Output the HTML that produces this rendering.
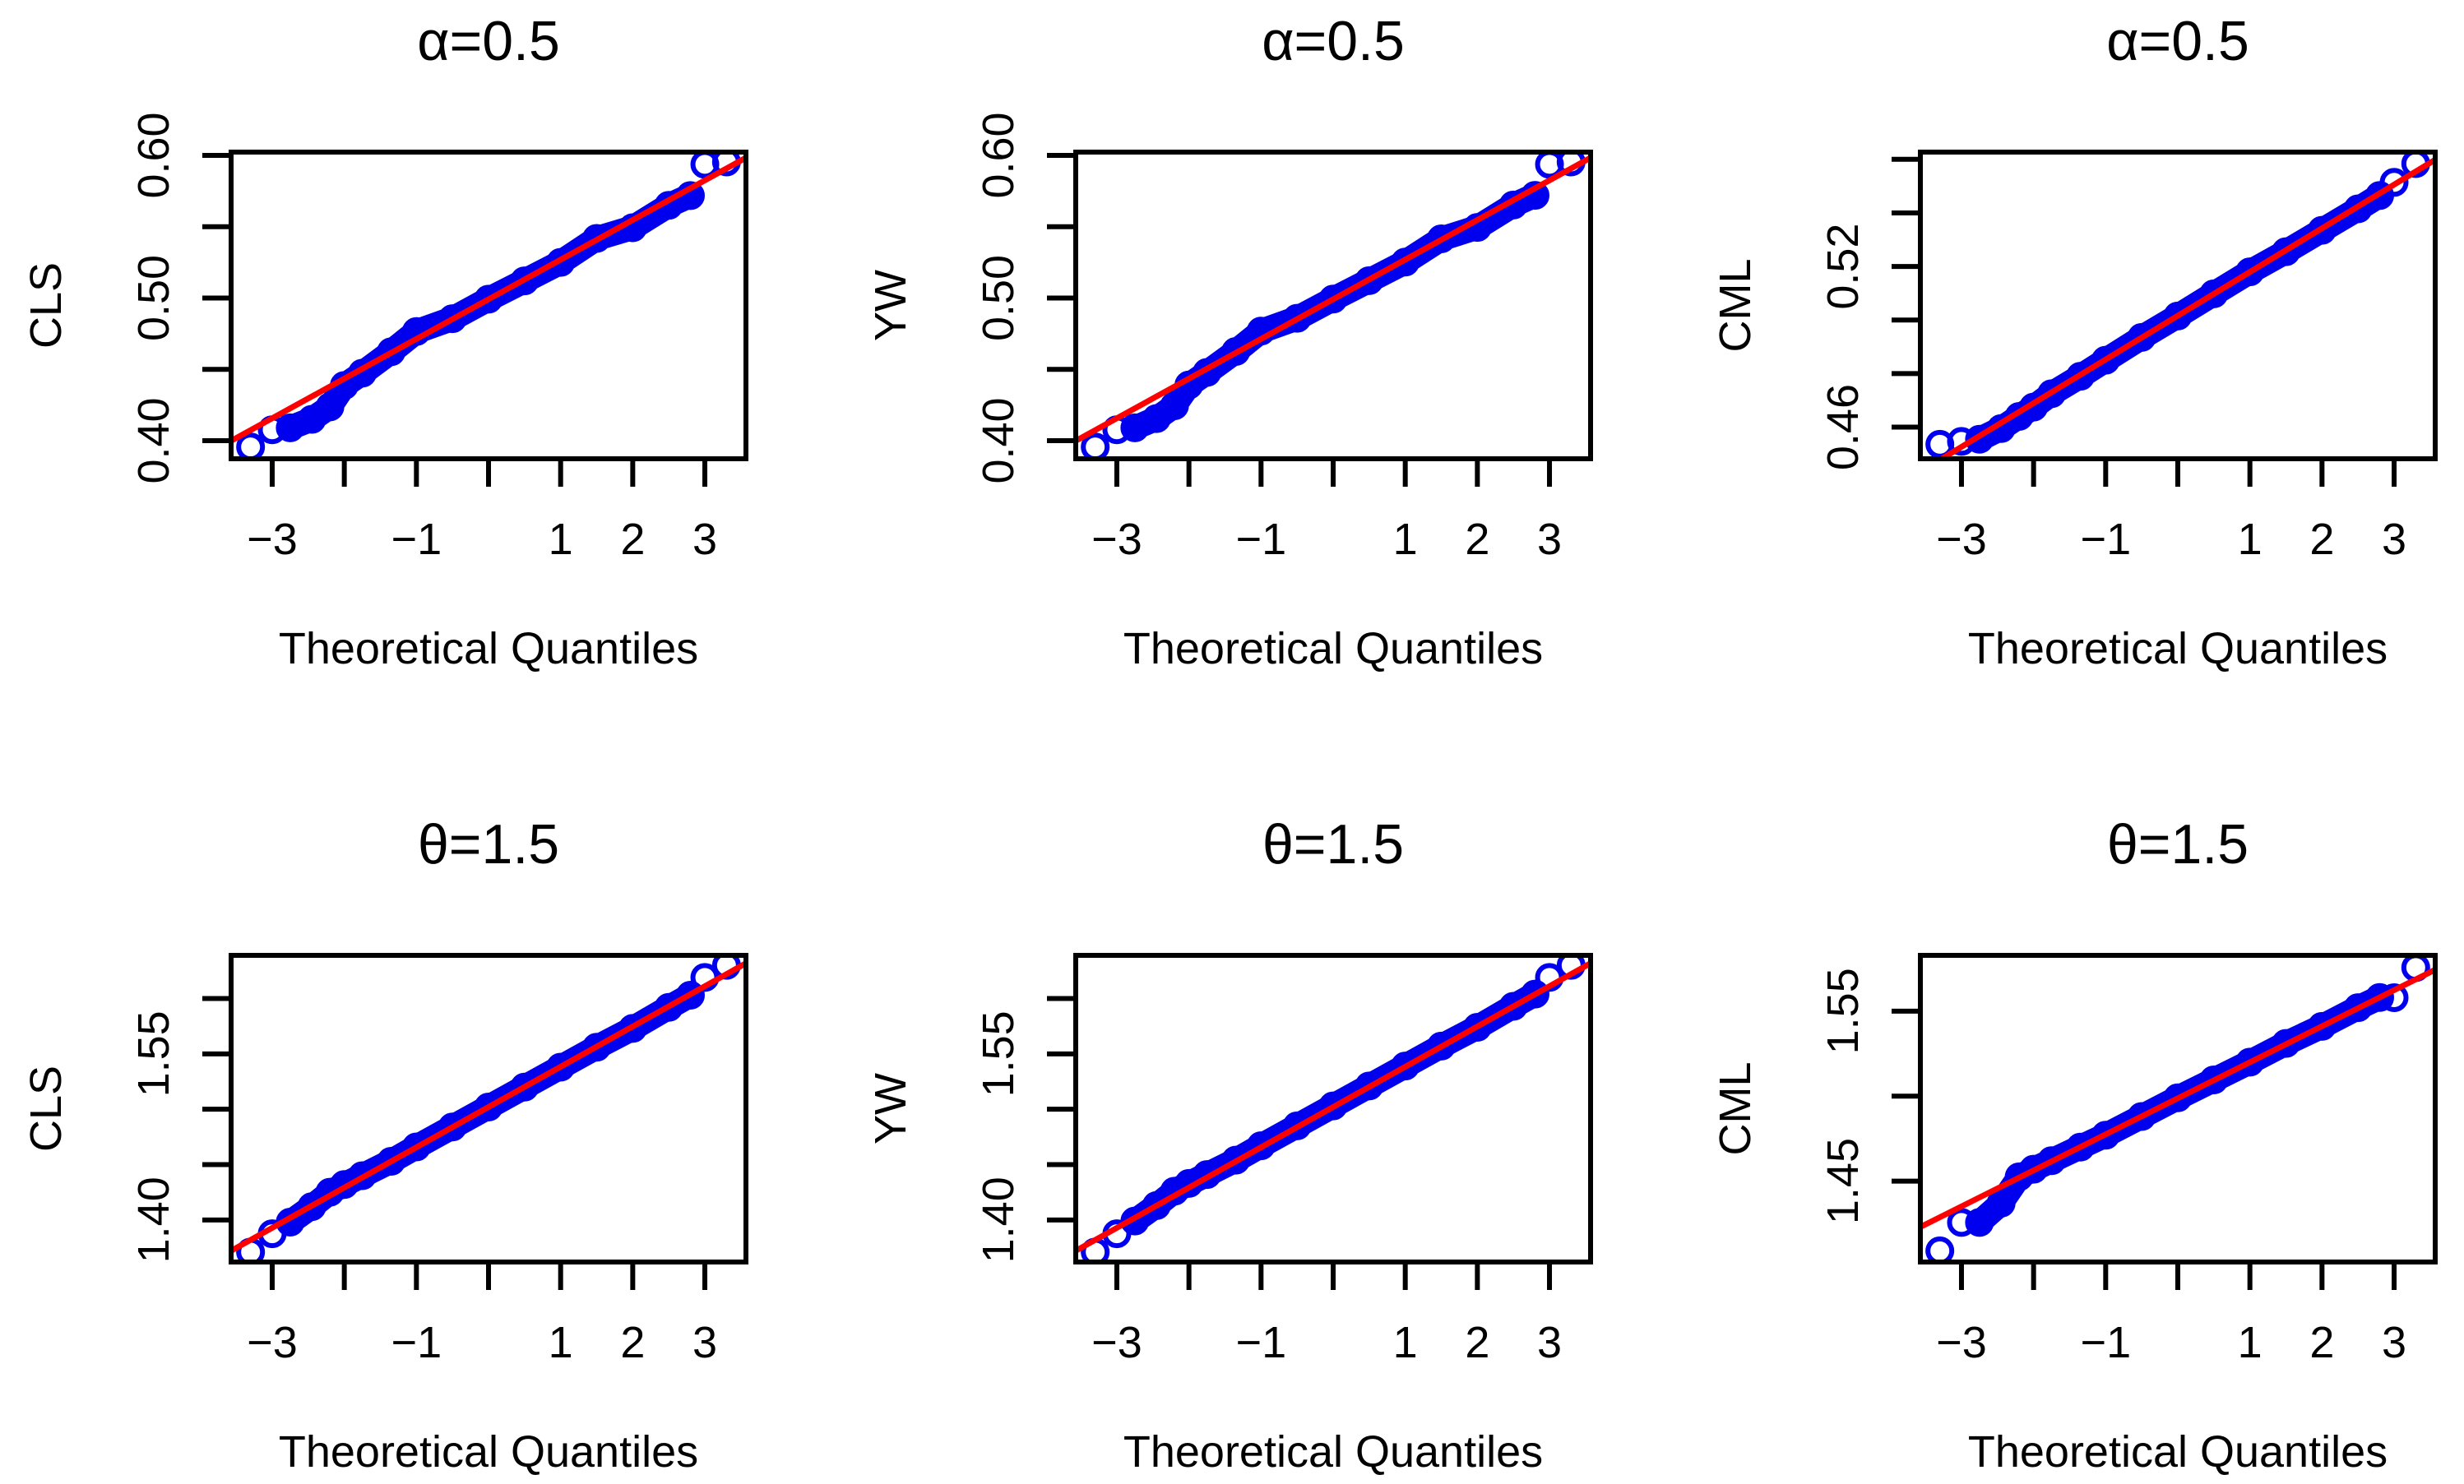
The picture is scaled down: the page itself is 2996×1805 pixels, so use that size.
<!DOCTYPE html>
<html><head><meta charset="utf-8"><style>
html,body{margin:0;padding:0;background:#fff;}
svg{display:block;font-family:"Liberation Sans",Arial,sans-serif;}
</style></head><body>
<svg id="fig" width="2996" height="1805" viewBox="0 0 2996 1805" xmlns="http://www.w3.org/2000/svg"></svg>
<script>
// Shared theoretical quantiles (x values of plotted sample points)
const theoQ = [-3.3,-3.0,-2.75,-2.45,-2.2,-2.0,-1.75,-1.35,-1.0,-0.5,0,0.5,1.0,1.5,2.0,2.5,2.8,3.0,3.3];
const xTickValues = [-3,-2,-1,0,1,2,3];
const xTickLabels = ["\u22123","","\u22121","","1","2","3"];
// Sample quantiles per panel
const clsAlpha = [0.3956,0.4076,0.409,0.415,0.4237,0.4387,0.4473,0.4623,0.4765,0.4855,0.4992,0.512,0.525,0.5418,0.5493,0.565,0.5718,0.5937,0.5954];
const ywAlpha  = [0.3956,0.4076,0.409,0.4155,0.4245,0.4390,0.4478,0.4625,0.4768,0.4858,0.4993,0.5122,0.5252,0.5415,0.5495,0.5652,0.5720,0.5937,0.5954];
const cmlAlpha = [0.4536,0.4547,0.4555,0.4595,0.4640,0.4675,0.4725,0.4790,0.4850,0.4935,0.5015,0.5098,0.5180,0.5255,0.5335,0.5415,0.5465,0.5514,0.5584];
const clsTheta = [1.371,1.3875,1.398,1.412,1.425,1.432,1.440,1.453,1.466,1.484,1.502,1.520,1.538,1.556,1.573,1.592,1.603,1.619,1.630];
const ywTheta  = [1.371,1.3875,1.399,1.413,1.426,1.433,1.441,1.454,1.467,1.485,1.503,1.521,1.539,1.557,1.574,1.593,1.604,1.619,1.630];
const cmlTheta = [1.409,1.4257,1.4257,1.437,1.4525,1.457,1.462,1.470,1.477,1.488,1.499,1.5095,1.520,1.531,1.541,1.552,1.558,1.5579,1.5756];
// Reference line (intercept, slope) per panel
const lineIntercepts = [0.4991,0.4991,0.5016,1.502,1.502,1.4987];
const lineSlopes = [0.0278,0.0278,0.01632,0.03638,0.03638,0.0212];
// Y axis ranges, ticks and labels
const yMins = [0.3873,0.3873,0.4482,1.362,1.362,1.4024];
const yMaxs = [0.6023,0.6023,0.5627,1.639,1.639,1.5828];
const yTicksP1 = [0.40,0.45,0.50,0.55,0.60];
const yTicksP3 = [0.46,0.48,0.50,0.52,0.54,0.56];
const yTicksP4 = [1.40,1.45,1.50,1.55,1.60];
const yTicksP6 = [1.45,1.50,1.55];
const yLabelsP1 = ["0.40","","0.50","","0.60"];
const yLabelsP3 = ["0.46","","","0.52","",""];
const yLabelsP4 = ["1.40","","","1.55",""];
const yLabelsP6 = ["1.45","","1.55"];
const titles = ["\u03b1=0.5","\u03b1=0.5","\u03b1=0.5","\u03b8=1.5","\u03b8=1.5","\u03b8=1.5"];
const yTitles = ["CLS","YW","CML","CLS","YW","CML"];

const panels = [
 {vals:clsAlpha, yt:yTicksP1, yl:yLabelsP1},
 {vals:ywAlpha, yt:yTicksP1, yl:yLabelsP1},
 {vals:cmlAlpha, yt:yTicksP3, yl:yLabelsP3},
 {vals:clsTheta, yt:yTicksP4, yl:yLabelsP4},
 {vals:ywTheta, yt:yTicksP4, yl:yLabelsP4},
 {vals:cmlTheta, yt:yTicksP6, yl:yLabelsP6}
];
const NS="http://www.w3.org/2000/svg";
const svg=document.getElementById('fig');
function mk(tag,attrs,parent){const e=document.createElementNS(NS,tag);for(const k in attrs)e.setAttribute(k,attrs[k]);(parent||svg).appendChild(e);return e;}

panels.forEach((p,i)=>{
  const col=i%3,row=Math.floor(i/3);
  const L=281+col*1027,R=907+col*1027,T=185+row*977,B=558+row*977;
  const xMin=-3.57,xMax=3.57;
  const xs=q=>L+(q-xMin)/(xMax-xMin)*(R-L);
  const ys=v=>B-(v-yMins[i])/(yMaxs[i]-yMins[i])*(B-T);
  const cx=(L+R)/2;
  const g=mk('g',{});
  
  
  const clipId='clip'+i;
  const cp=mk('clipPath',{id:clipId},g);mk('rect',{x:L,y:T,width:R-L,height:B-T},cp);
  const t=mk('text',{x:cx,y:73+row*977,'text-anchor':'middle','font-size':68},g);t.textContent=titles[i];
  
  
  const yt=mk('text',{x:0,y:0,'text-anchor':'middle','font-size':54,transform:`translate(${74+col*1027},${(T+B)/2}) rotate(-90)`},g);yt.textContent=yTitles[i];
  
  
  const xt=mk('text',{x:cx,y:807+row*977,'text-anchor':'middle','font-size':54},g);xt.textContent="Theoretical Quantiles";
  
  
  xTickValues.forEach((q,k)=>{
    const x=xs(q);
    const tk=mk('line',{x1:x,x2:x,y1:B,y2:B+34,stroke:'#000','stroke-width':6},g);
    
    
    if(xTickLabels[k]){const tl=mk('text',{x:x,y:674+row*977,'text-anchor':'middle','font-size':54},g);tl.textContent=xTickLabels[k];
      
      }
  });
  p.yt.forEach((v,k)=>{
    const y=ys(v);
    const tk=mk('line',{x1:L-35,x2:L,y1:y,y2:y,stroke:'#000','stroke-width':6},g);
    
    
    if(p.yl[k]){const tl=mk('text',{x:0,y:0,'text-anchor':'middle','font-size':54,transform:`translate(${205+col*1027},${y}) rotate(-90)`},g);tl.textContent=p.yl[k];
      
      }
  });
  const pg=mk('g',{'clip-path':`url(#${clipId})`},g);
  const inner=theoQ.map((q,k)=>[q,p.vals[k]]).slice(2,17);
  const band=mk('polyline',{points:inner.map(d=>xs(d[0])+','+ys(d[1])).join(' '),fill:'none',stroke:'#0000ee','stroke-width':30,'stroke-linejoin':'round','stroke-linecap':'round'},pg);
  
  
  theoQ.forEach((q,k)=>{
    const c=mk('circle',{cx:xs(q),cy:ys(p.vals[k]),r:14.5,fill:'none',stroke:'#0000ee','stroke-width':6},pg);
    
    
  });
  const ln=mk('line',{x1:xs(xMin),y1:ys(lineIntercepts[i]+lineSlopes[i]*xMin),x2:xs(xMax),y2:ys(lineIntercepts[i]+lineSlopes[i]*xMax),stroke:'#ff0000','stroke-width':7},pg);
  
  
  const bx=mk('rect',{x:L,y:T,width:R-L,height:B-T,fill:'none',stroke:'#000','stroke-width':6},g);
  
  
});
</script>
</body></html>
